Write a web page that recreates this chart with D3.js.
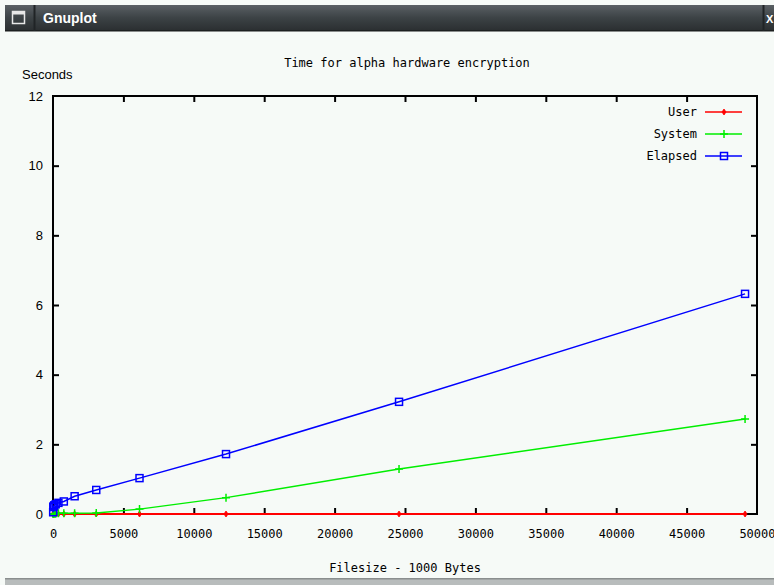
<!DOCTYPE html>
<html><head><meta charset="utf-8">
<script src="https://cdn.jsdelivr.net/npm/d3@7"></script>
<style>
html,body{margin:0;padding:0;background:#f6faf7;}
svg{display:block;}
</style></head>
<body>
<script>
// ---- data ----
const fileSizes = [12, 24, 48, 96, 192, 384, 768, 1536, 3072, 6144, 12288, 24576, 49152];
const userTimes = [0.0, 0.0, 0.0, 0.0, 0.0, 0.0, 0.0, 0.0, 0.0, 0.0, 0.0, 0.0, 0.0];
const systemTimes = [0.0, 0.0, 0.01, 0.01, 0.01, 0.02, 0.02, 0.02, 0.03, 0.14, 0.47, 1.29, 2.73];
const elapsedTimes = [0.05, 0.2, 0.22, 0.25, 0.28, 0.32, 0.36, 0.51, 0.69, 1.03, 1.72, 3.22, 6.32];
const seriesNames = ["User", "System", "Elapsed"];
const seriesColors = ["#ff0000", "#00ee00", "#0000ff"];
const xTicks = [0, 5000, 10000, 15000, 20000, 25000, 30000, 35000, 40000, 45000, 50000];
const yTicks = [0, 2, 4, 6, 8, 10, 12];
const chartTitle = "Time for alpha hardware encryption";
const xLabel = "Filesize - 1000 Bytes";
const yLabel = "Seconds";
const windowTitle = "Gnuplot";

(function(){
const W = 774, H = 585;
const svg = d3.select("body").append("svg").attr("width", W).attr("height", H);

// window title bar
const defs = svg.append("defs");
const g1 = defs.append("linearGradient").attr("id","tb").attr("x1",0).attr("x2",0).attr("y1",0).attr("y2",1);
g1.append("stop").attr("offset","0%").attr("stop-color","#5a6064");
g1.append("stop").attr("offset","50%").attr("stop-color","#3c4245");
g1.append("stop").attr("offset","100%").attr("stop-color","#2a2e30");
svg.append("rect").attr("x",5).attr("y",5).attr("width",W-5).attr("height",26).attr("fill","url(#tb)");
svg.append("rect").attr("x",5).attr("y",30).attr("width",W-5).attr("height",1.5).attr("fill","#1c1f20");
svg.append("line").attr("x1",34.5).attr("x2",34.5).attr("y1",5).attr("y2",31).attr("stroke","#202426").attr("stroke-width",2);
svg.append("line").attr("x1",763.5).attr("x2",763.5).attr("y1",5).attr("y2",31).attr("stroke","#202426").attr("stroke-width",2);
svg.append("rect").attr("x",12.5).attr("y",11.5).attr("width",12).attr("height",12).attr("fill","none").attr("stroke","#e8e8e8").attr("stroke-width",1.5);
svg.append("rect").attr("x",12.5).attr("y",11.5).attr("width",12).attr("height",3).attr("fill","#e8e8e8");
svg.append("text").attr("x",43).attr("y",23).attr("fill","#ffffff").attr("font-family","Liberation Sans Narrow, Liberation Sans, sans-serif")
  .attr("font-size",14).attr("font-weight","bold").text(windowTitle);
svg.append("text").attr("x",766).attr("y",23).attr("fill","#ffffff").attr("font-family","Liberation Sans, sans-serif")
  .attr("font-size",11).attr("font-weight","bold").text("X");
// bottom gray strip
svg.append("rect").attr("x",5).attr("y",578).attr("width",W-5).attr("height",7).attr("fill","#b8bcbc");
svg.append("rect").attr("x",5).attr("y",578).attr("width",W-5).attr("height",1.5).attr("fill","#8a8e8e");

// plot geometry
const pL = 53, pR = 757, pT = 96, pB = 514;
const x = d3.scaleLinear().domain([0, 50000]).range([pL, pR]);
const y = d3.scaleLinear().domain([0, 12]).range([pB, pT]);

const mono = "DejaVu Sans Mono, monospace";
const sans = "Liberation Sans, Arial, sans-serif";

// title
svg.append("text").attr("x",(pL+pR)/2+2).attr("y",67).attr("text-anchor","middle")
  .attr("font-family",mono).attr("font-size",12).attr("fill","#000").text(chartTitle);
svg.append("text").attr("x",22).attr("y",79).attr("font-family",sans).attr("font-size",13).attr("fill","#000").text(yLabel);
svg.append("text").attr("x",(pL+pR)/2).attr("y",572).attr("text-anchor","middle")
  .attr("font-family",mono).attr("font-size",12).attr("fill","#000").text(xLabel);

// axes
const tickLen = 6;
const xb = svg.append("g").attr("transform",`translate(0,${pB})`)
  .call(d3.axisBottom(x).tickValues(xTicks).tickSize(-tickLen).tickPadding(15).tickFormat(d3.format("d")));
const xt = svg.append("g").attr("transform",`translate(0,${pT})`)
  .call(d3.axisTop(x).tickValues(xTicks).tickSize(-tickLen).tickFormat(""));
const yl = svg.append("g").attr("transform",`translate(${pL},0)`)
  .call(d3.axisLeft(y).tickValues(yTicks).tickSize(-tickLen).tickPadding(10).tickFormat(d3.format("d")));
const yr = svg.append("g").attr("transform",`translate(${pR},0)`)
  .call(d3.axisRight(y).tickValues(yTicks).tickSize(-tickLen).tickFormat(""));
[xb,xt,yl,yr].forEach(g=>{
  g.select(".domain").remove();
  g.selectAll(".tick line").attr("stroke","#000").attr("stroke-width",2);
});
xb.selectAll(".tick text").attr("font-family",mono).attr("font-size",12).attr("fill","#000");
xb.selectAll(".tick").filter(d=>d===50000).select("text").attr("text-anchor","end").attr("dx",18);
yl.selectAll(".tick text").attr("font-family",sans).attr("font-size",13).attr("fill","#000");
[xb,xt].forEach(g=>g.selectAll(".tick").filter(d=>d===0||d===50000).select("line").remove());
[yl,yr].forEach(g=>g.selectAll(".tick").filter(d=>d===0||d===12).select("line").remove());

// frame
svg.append("rect").attr("x",pL).attr("y",pT).attr("width",pR-pL).attr("height",pB-pT)
  .attr("fill","none").attr("stroke","#000").attr("stroke-width",2);

// series
const series = [userTimes, systemTimes, elapsedTimes];
const line = d3.line().x(d=>x(d[0])).y(d=>y(d[1]));
function marker(g, i, cx, cy){
  const c = seriesColors[i];
  if(i===0){
    g.append("path").attr("d",`M${cx},${cy-3}L${cx+2},${cy}L${cx},${cy+3}L${cx-2},${cy}Z`).attr("fill",c).attr("stroke",c).attr("stroke-width",0.8);
  } else if(i===1){
    g.append("path").attr("d",`M${cx-4},${cy}H${cx+4}M${cx},${cy-4}V${cy+4}`).attr("stroke",c).attr("stroke-width",1.5).attr("fill","none");
  } else {
    g.append("rect").attr("x",cx-3.5).attr("y",cy-3.5).attr("width",7).attr("height",7).attr("fill","none").attr("stroke",c).attr("stroke-width",1.5);
  }
}
series.forEach((vals,i)=>{
  const pts = fileSizes.map((f,j)=>[f, vals[j]]);
  const g = svg.append("g");
  g.append("path").attr("d",line(pts)).attr("fill","none").attr("stroke",seriesColors[i]).attr("stroke-width",i===0?2:1.5);
  pts.forEach(p=>marker(g,i,x(p[0]),y(p[1])));
});

// legend
const legY = [112, 134, 156];
seriesNames.forEach((n,i)=>{
  svg.append("text").attr("x",697).attr("y",legY[i]+4).attr("text-anchor","end")
    .attr("font-family",mono).attr("font-size",12).attr("fill","#000").text(n);
  svg.append("line").attr("x1",705).attr("x2",742).attr("y1",legY[i]).attr("y2",legY[i])
    .attr("stroke",seriesColors[i]).attr("stroke-width",1.5);
  marker(svg,i,724,legY[i]);
});
})();
</script>
</body></html>
